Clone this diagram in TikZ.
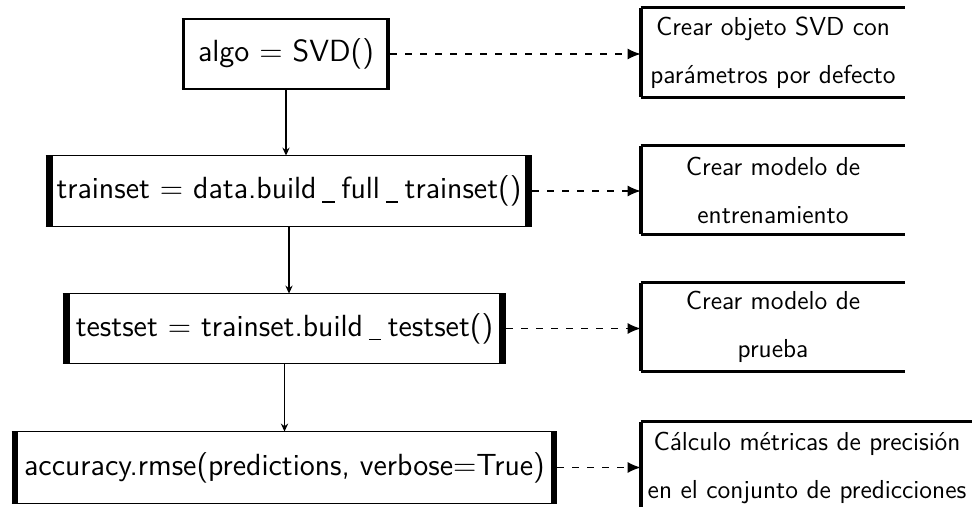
\documentclass[tikz,border=0pt]{standalone}
\usetikzlibrary{arrows.meta,calc}
% spaced underscore as printed in the code labels
\newcommand\usc{\hspace{0.19em}\rule[-0.14em]{0.4em}{0.055em}\hspace{0.22em}}
\begin{document}
\begin{tikzpicture}[x=0.5pt,y=-0.5pt,
  codebox/.style={inner sep=0pt, font=\sffamily\fontsize{15.3}{18}\selectfont},
  notebox/.style={inner sep=0pt, align=center, font=\sffamily\fontsize{13}{24}\selectfont},
  flow/.style={line width=0.65pt, -{Stealth[length=4pt,width=3.6pt]}},
  hint/.style={line width=0.65pt, dash pattern=on 3.5pt off 4pt, -{Latex[length=6.5pt,width=5.5pt]}}]
  \useasboundingbox (0,0) rectangle (972,507);
  \clip (0,0) rectangle (972,507);

  % code steps (left column)
  \node[codebox, minimum width=104pt, minimum height=35pt] (algo) at (286,54) {algo = SVD()};
  \node[codebox, minimum width=243pt, minimum height=35pt] (train) at (289,191) {trainset = data.build\usc full\usc trainset()};
  \node[codebox, minimum width=221.5pt, minimum height=34.5pt] (test) at (284.5,328.5) {testset = trainset.build\usc testset()};
  \node[codebox, minimum width=272.5pt, minimum height=35.5pt] (acc) at (284.5,467.5) {accuracy.rmse(predictions, verbose=True)};

  % explanations (right column)
  \node[notebox, minimum width=132pt, minimum height=44.5pt] (n1) at (773,52.5) {Crear objeto SVD con\\parámetros por defecto};
  \node[notebox, minimum width=132pt, minimum height=44pt] (n2) at (773,190) {Crear modelo de\\entrenamiento};
  \node[notebox, minimum width=132pt, minimum height=44pt] (n3) at (773,327) {Crear modelo de\\prueba};
  \node[notebox, minimum width=166pt, minimum height=46pt] (n4) at (807,468) {Cálculo métricas de precisión\\en el conjunto de predicciones};

  % frames of the code steps: thin top/bottom, heavy sides
  \foreach \b/\sl/\sr/\h in {algo/3.3/4/1pt, train/7/7/0.65pt, test/7/7/0.65pt, acc/6/6/0.65pt}{
    \draw[line width=\h] (\b.north west) -- (\b.north east) (\b.south west) -- (\b.south east);
    \fill (\b.north west) rectangle ($(\b.south west)+(\sl,0)$);
    \fill ($(\b.north east)+(-\sr,0)$) rectangle (\b.south east);
  }
  % frames of the explanations: open on the right
  \foreach \b in {n1,n2,n3,n4}{
    \draw[line width=1.2pt] (\b.north west) -- (\b.north east) (\b.south west) -- (\b.south east);
    \fill ($(\b.north west)+(-2,0)$) rectangle ($(\b.south west)+(2,0)$);
  }

  % sequence
  \draw[flow] (algo.south) -- (algo.south |- train.north);
  \draw[flow] (train.south) -- (train.south |- test.north);
  \draw[flow] (test.south) -- (test.south |- acc.north);

  % step to explanation
  \draw[hint] (algo.east) -- (algo.east -| n1.west);
  \draw[hint] (train.east) -- (train.east -| n2.west);
  \draw[hint] (test.east) -- (test.east -| n3.west);
  \draw[hint] (acc.east) -- (acc.east -| n4.west);
\end{tikzpicture}
\end{document}
